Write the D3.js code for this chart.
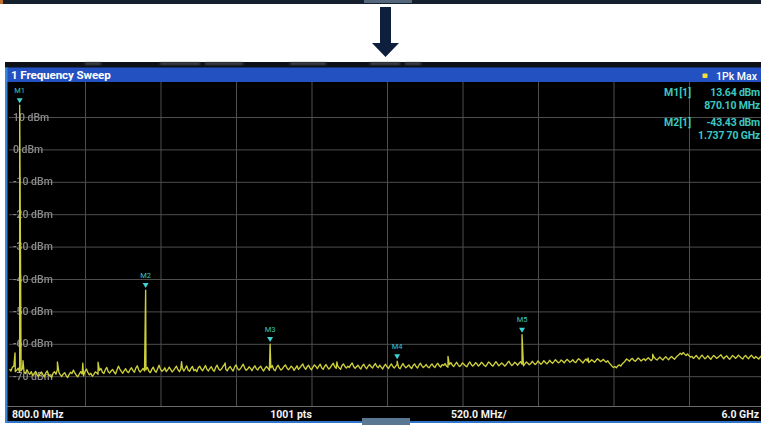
<!DOCTYPE html>
<html>
<head>
<meta charset="utf-8">
<script src="https://cdn.jsdelivr.net/npm/d3@7/dist/d3.min.js"></script>
<style>
  html, body { margin: 0; padding: 0; background: #ffffff; }
  svg { display: block; }
  text { font-family: Roboto, "Open Sans", "DejaVu Sans", sans-serif; }
</style>
</head>
<body>
<svg id="chart" width="761" height="425"></svg>
<script>
// Sweep settings
const startMHz = 800;
const stopMHz = 6000;
const stepMHz = 10;          // trace sample spacing
const refLevel = 20;         // dBm at top of grid
const bottomLevel = -80;     // dBm at bottom of grid

// Level tick labels
const levelTicks = [10, 0, -10, -20, -30, -40, -50, -60, -70];

// Max-hold trace levels (dBm), one per sample from startMHz in stepMHz steps
const traceLevels = [
  -67.8, -68.4, -67.2, -66.9, -68.6, -68.1, -67.5, -68.8, -68.3, -67.6,
  -68.7, -69.2, -68.0, -68.9, -69.4, -68.6, -69.8, -69.1, -68.5, -69.6,
  -70.0, -69.3, -68.7, -69.5, -70.2, -69.0, -68.4, -69.7, -69.9, -70.3,
  -69.1, -68.6, -69.4, -67.9, -68.8, -69.6, -70.1, -69.3, -68.9, -69.8,
  -70.4, -69.5, -68.8, -69.2, -68.1, -69.0, -69.7, -70.2, -69.4, -68.6,
  -69.3, -69.9, -68.5, -67.8, -68.9, -69.6, -69.1, -70.0, -69.5, -68.7,
  -68.9, -69.4, -68.2, -67.6, -68.8, -69.2, -68.0, -67.3, -68.6, -69.0,
  -68.4, -67.9, -68.7, -69.3, -68.1, -66.9, -67.8, -68.5, -69.1, -68.3,
  -67.7, -68.6, -68.9, -68.0, -67.4, -68.2, -68.8, -67.5, -66.8, -68.1,
  -68.7, -68.2, -67.6, -68.4, -68.0, -67.3, -68.5, -68.9, -67.9, -67.2,
  -68.3, -68.8, -67.7, -66.6, -67.9, -68.5, -68.1, -67.4, -68.6, -68.0,
  -67.2, -67.9, -68.7, -68.2, -67.5, -66.9, -68.0, -68.6, -67.8, -67.3,
  -68.4, -67.7, -66.8, -68.1, -68.5, -67.6, -67.0, -68.3, -67.9, -68.6,
  -67.4, -66.9, -67.8, -68.3, -67.5, -66.7, -67.9, -68.4, -67.6, -67.1,
  -68.0, -68.5, -67.3, -66.6, -67.7, -68.2, -67.8, -67.0, -66.4, -67.9,
  -68.3, -67.5, -67.0, -67.8, -68.4, -67.2, -66.5, -67.6, -68.1, -67.7,
  -67.0, -66.3, -67.5, -68.2, -67.8, -67.1, -67.6, -68.3, -67.4, -66.8,
  -67.7, -68.1, -67.3, -66.9, -67.8, -68.4, -67.6, -67.0, -67.5, -68.2,
  -67.4, -66.7, -67.9, -68.3, -67.2, -66.6, -67.5, -68.1, -67.7, -67.0,
  -66.5, -67.4, -68.0, -67.6, -66.9, -67.3, -68.2, -67.5, -66.8, -67.9,
  -67.4, -66.8, -66.2, -67.3, -67.9, -67.1, -66.6, -67.5, -68.0, -67.2,
  -66.5, -67.0, -67.7, -66.9, -66.3, -67.4, -67.9, -67.0, -66.4, -67.2,
  -67.8, -67.3, -66.6, -66.0, -67.1, -67.6, -66.8, -67.4, -67.9, -66.7,
  -66.2, -67.0, -67.5, -66.9, -67.3, -66.5, -65.9, -67.0, -67.6, -67.1,
  -66.6, -67.3, -67.8, -66.8, -66.3, -67.2, -67.7, -66.9, -66.4, -67.0,
  -67.5, -66.7, -66.1, -67.0, -67.4, -66.6, -67.2, -67.8, -66.9, -66.3,
  -67.1, -67.6, -66.8, -66.2, -67.0, -67.5, -66.9, -66.4, -67.3, -67.7,
  -66.8, -66.1, -66.9, -67.4, -67.0, -66.5, -67.2, -67.6, -66.7, -66.2,
  -67.0, -67.5, -66.6, -66.0, -66.8, -67.3, -66.9, -66.4, -67.1, -67.4,
  -66.7, -66.2, -66.9, -67.3, -66.5, -66.0, -66.8, -67.2, -66.4, -66.7,
  -66.1, -66.9, -67.2, -66.4, -65.8, -66.6, -67.0, -66.3, -65.7, -66.5,
  -67.0, -66.6, -65.9, -66.3, -66.8, -67.1, -66.2, -65.6, -66.4, -66.9,
  -66.5, -65.8, -66.2, -66.9, -66.4, -65.7, -66.1, -66.7, -67.0, -66.3,
  -65.6, -66.0, -66.6, -66.9, -66.2, -65.5, -66.1, -66.8, -66.4, -65.9,
  -66.3, -66.9, -66.5, -65.8, -65.4, -66.2, -66.7, -66.3, -65.7, -66.1,
  -66.6, -66.0, -65.5, -66.3, -66.8, -66.2, -65.6, -66.0, -66.5, -66.1,
  -65.4, -65.9, -66.4, -66.0, -65.3, -65.8, -66.3, -65.9, -65.2, -65.7,
  -66.2, -65.8, -65.1, -65.6, -66.0, -65.5, -64.9, -65.4, -65.9, -65.6,
  -65.0, -65.4, -65.9, -65.3, -64.8, -65.2, -65.7, -65.4, -64.9, -65.6,
  -65.8, -65.1, -64.6, -65.0, -65.5, -65.9, -65.2, -64.7, -65.3, -65.8,
  -65.4, -64.9, -65.3, -65.7, -65.1, -64.6, -65.0, -65.5, -65.2, -64.8,
  -65.3, -65.7, -65.2, -65.9, -66.4, -66.9, -67.3, -67.0, -67.4, -66.8,
  -66.5, -66.9, -66.2, -65.8, -65.3, -64.7, -65.0, -65.4, -64.8, -64.5,
  -65.1, -65.4, -64.9, -64.4, -64.8, -65.3, -64.9, -64.6, -65.2, -64.7,
  -64.3, -64.8, -65.2, -64.6, -64.2, -64.7, -65.0, -64.5, -64.1, -64.6,
  -65.0, -64.4, -64.0, -64.5, -64.9, -64.3, -63.9, -64.4, -64.8, -64.2,
  -63.8, -63.4, -62.9, -63.3, -62.7, -63.2, -63.6, -63.1, -63.7, -64.1,
  -63.9, -64.5, -64.1, -63.6, -64.2, -64.7, -64.0, -63.5, -64.1, -64.6,
  -64.2, -63.7, -64.3, -64.8, -64.1, -63.6, -64.0, -64.5, -64.2, -63.8,
  -63.4, -64.1, -64.6, -64.0, -63.7, -64.3, -64.8, -64.2, -63.6, -64.0,
  -64.5, -64.1, -63.5, -63.9, -64.4, -64.7, -64.0, -63.6, -64.2, -64.6,
  -64.0, -63.5, -64.1, -64.5, -63.9, -64.3, -64.7, -64.1, -63.7, -64.2, -64.4
];

// Narrow spurs riding on the noise floor: [MHz, dBm]
const spurs = [
  [838, -62.8], [893, -65.2], [1130, -65.6], [1305, -66.0], [1410, -65.7],
  [1985, -65.5], [2285, -65.9], [3055, -65.6], [3820, -63.9], [4785, -64.4],
  [5230, -63.2]
];

// Peak markers
const markerNames = ["M1", "M2", "M3", "M4", "M5"];
const markerFreqMHz = [870.10, 1737.70, 2595, 3470, 4330];
const markerLevels = [13.64, -43.43, -60.1, -65.4, -57.2];

// Marker readout table
const readoutLabels = ["M1[1]", "M2[1]"];
const readoutLevels = ["13.64 dBm", "-43.43 dBm"];
const readoutFreqs = ["870.10 MHz", "1.737 70 GHz"];

// Footer texts
const footerStart = "800.0 MHz";
const footerPoints = "1001 pts";
const footerSpan = "520.0 MHz/";
const footerStop = "6.0 GHz";

const svg = d3.select("#chart");
const W = 761, H = 425;

const defs = svg.append("defs");
defs.append("filter").attr("id", "soft")
  .attr("x", "-10%").attr("y", "-10%").attr("width", "120%").attr("height", "120%")
  .append("feGaussianBlur").attr("stdDeviation", 0.65);
defs.append("filter").attr("id", "haze")
  .append("feGaussianBlur").attr("stdDeviation", 1.0);
defs.append("clipPath").attr("id", "plotClip")
  .append("rect").attr("x", 8).attr("y", 82).attr("width", W - 8).attr("height", 324);

// page background
svg.append("rect").attr("width", W).attr("height", H).attr("fill", "#ffffff");

// top strip of the previous panel
svg.append("rect").attr("x", 0).attr("y", 0).attr("width", W).attr("height", 4).attr("fill", "#14202e");
svg.append("rect").attr("x", 0).attr("y", 0).attr("width", 3).attr("height", 4).attr("fill", "#c0702a");
svg.append("rect").attr("x", 364).attr("y", 0).attr("width", 48).attr("height", 3).attr("fill", "#55677a");

// down arrow
svg.append("path")
  .attr("d", "M380,7 L391,7 L391,43 L399,43 L385.5,57 L372,43 L380,43 Z")
  .attr("fill", "#0e1f3d");

// instrument panel frame
svg.append("rect").attr("x", 5).attr("y", 62).attr("width", W - 5).attr("height", 361).attr("fill", "#000000");
// dim status strip above the title
svg.append("rect").attr("x", 5).attr("y", 62).attr("width", W - 5).attr("height", 6).attr("fill", "#0d1116");
const dimBits = [[85, 16], [160, 40], [205, 38], [290, 36], [370, 30], [405, 16]];
svg.append("g").attr("filter", "url(#haze)")
  .selectAll("rect").data(dimBits).join("rect")
  .attr("x", d => d[0]).attr("y", 62).attr("width", d => d[1]).attr("height", 3)
  .attr("fill", "#6a6e74").attr("opacity", 0.55);

// title bar
svg.append("rect").attr("x", 5).attr("y", 67.5).attr("width", W - 5).attr("height", 14.5).attr("fill", "#2451c2");
svg.append("text").attr("x", 11).attr("y", 79.3)
  .attr("fill", "#ffffff").attr("font-size", 11.6).attr("font-weight", 700)
  .attr("font-family", "'Open Sans', Roboto, sans-serif")
  .attr("letter-spacing", -0.1)
  .text("1 Frequency Sweep");
svg.append("rect").attr("x", 702.5).attr("y", 73.5).attr("width", 5).attr("height", 4.5)
  .attr("rx", 1).attr("fill", "#f2e23a");
svg.append("text").attr("x", 757).attr("y", 79.5).attr("text-anchor", "end")
  .attr("fill", "#ffffff").attr("font-size", 10.5).attr("font-weight", 500)
  .text("1Pk Max");

// scales
const x = d3.scaleLinear().domain([startMHz, stopMHz]).range([9.5, 764.5]);
const y = d3.scaleLinear().domain([refLevel, bottomLevel]).range([84.6, 408.6]);

// grid
const grid = svg.append("g").attr("clip-path", "url(#plotClip)");
const vTicks = d3.range(1, 10).map(k => startMHz + k * (stopMHz - startMHz) / 10);
grid.append("g").call(
  d3.axisBottom(x).tickValues(vTicks).tickSize(-(406 - 82)).tickFormat("")
).attr("transform", "translate(0,406)")
  .call(g => g.select(".domain").remove())
  .call(g => g.selectAll("line").attr("stroke", "#4e4e4e").attr("stroke-width", 1));
grid.append("g").call(
  d3.axisLeft(y).tickValues(levelTicks).tickSize(-(W)).tickFormat("")
).attr("transform", "translate(9,0)")
  .call(g => g.select(".domain").remove())
  .call(g => g.selectAll("line").attr("stroke", "#4e4e4e").attr("stroke-width", 1));

// level labels
svg.append("g").attr("filter", "url(#soft)")
  .selectAll("text").data(levelTicks).join("text")
  .attr("x", 13).attr("y", d => y(d)).attr("dy", "0.35em")
  .attr("fill", "#8a8a8a").attr("font-size", 10.5).attr("font-weight", 500)
  .text(d => d + " dBm");

// trace
const points = traceLevels.map((v, i) => [startMHz + i * stepMHz, v])
  .concat(spurs)
  .concat(markerFreqMHz.map((f, i) => [f, markerLevels[i]]))
  .sort((a, b) => a[0] - b[0]);
const line = d3.line().x(d => x(d[0])).y(d => y(d[1]));
svg.append("path").datum(points)
  .attr("clip-path", "url(#plotClip)")
  .attr("d", line)
  .attr("fill", "none")
  .attr("stroke", "#cccf3a")
  .attr("stroke-width", 1.35)
  .attr("stroke-linejoin", "round");

// markers
const mk = svg.append("g");
markerNames.forEach((name, i) => {
  const mx = x(markerFreqMHz[i]);
  const my = y(markerLevels[i]);
  mk.append("path")
    .attr("d", d3.line()([[mx - 3, my - 7], [mx + 3, my - 7], [mx, my - 2]]) + "Z")
    .attr("fill", "#3fd2d2");
  mk.append("text").attr("x", mx).attr("y", my - 15).attr("dy", "0.35em")
    .attr("text-anchor", "middle").attr("fill", "#3cc6c6")
    .attr("font-size", 7.5).text(name);
});

// readout table
const rd = svg.append("g").attr("fill", "#3cc8c2").attr("font-size", 10.5).attr("font-weight", 700);
const rowY = [[92, 105.5], [122.5, 135.5]];
readoutLabels.forEach((lab, i) => {
  rd.append("text").attr("x", 664).attr("y", rowY[i][0]).attr("dy", "0.35em").text(lab);
  rd.append("text").attr("x", 760).attr("y", rowY[i][0]).attr("dy", "0.35em")
    .attr("text-anchor", "end").attr("letter-spacing", -0.2).text(readoutLevels[i]);
  rd.append("text").attr("x", 760).attr("y", rowY[i][1]).attr("dy", "0.35em")
    .attr("text-anchor", "end").attr("letter-spacing", -0.2).text(readoutFreqs[i]);
});

// footer
svg.append("rect").attr("x", 5).attr("y", 406).attr("width", W - 5).attr("height", 15).attr("fill", "#000000");
svg.append("line").attr("x1", 5).attr("x2", W).attr("y1", 406.5).attr("y2", 406.5)
  .attr("stroke", "#6a6a6a").attr("stroke-width", 1);
const ft = svg.append("g").attr("fill", "#f2f2f2").attr("font-size", 10.5).attr("font-weight", 700);
ft.append("text").attr("x", 12).attr("y", 414).attr("dy", "0.35em").text(footerStart);
ft.append("text").attr("x", 291).attr("y", 414).attr("dy", "0.35em").attr("text-anchor", "middle").text(footerPoints);
ft.append("text").attr("x", 451).attr("y", 414).attr("dy", "0.35em").text(footerSpan);
ft.append("text").attr("x", 759).attr("y", 414).attr("dy", "0.35em").attr("text-anchor", "end").text(footerStop);

// panel border
svg.append("rect").attr("x", 5).attr("y", 421).attr("width", W - 5).attr("height", 2).attr("fill", "#2e74c8");
svg.append("rect").attr("x", 5).attr("y", 67.5).attr("width", 2.5).attr("height", 355.5).attr("fill", "#3a86d8");
svg.append("rect").attr("x", 362).attr("y", 418).attr("width", 48).attr("height", 7).attr("fill", "#5a7894");
</script>
</body>
</html>
